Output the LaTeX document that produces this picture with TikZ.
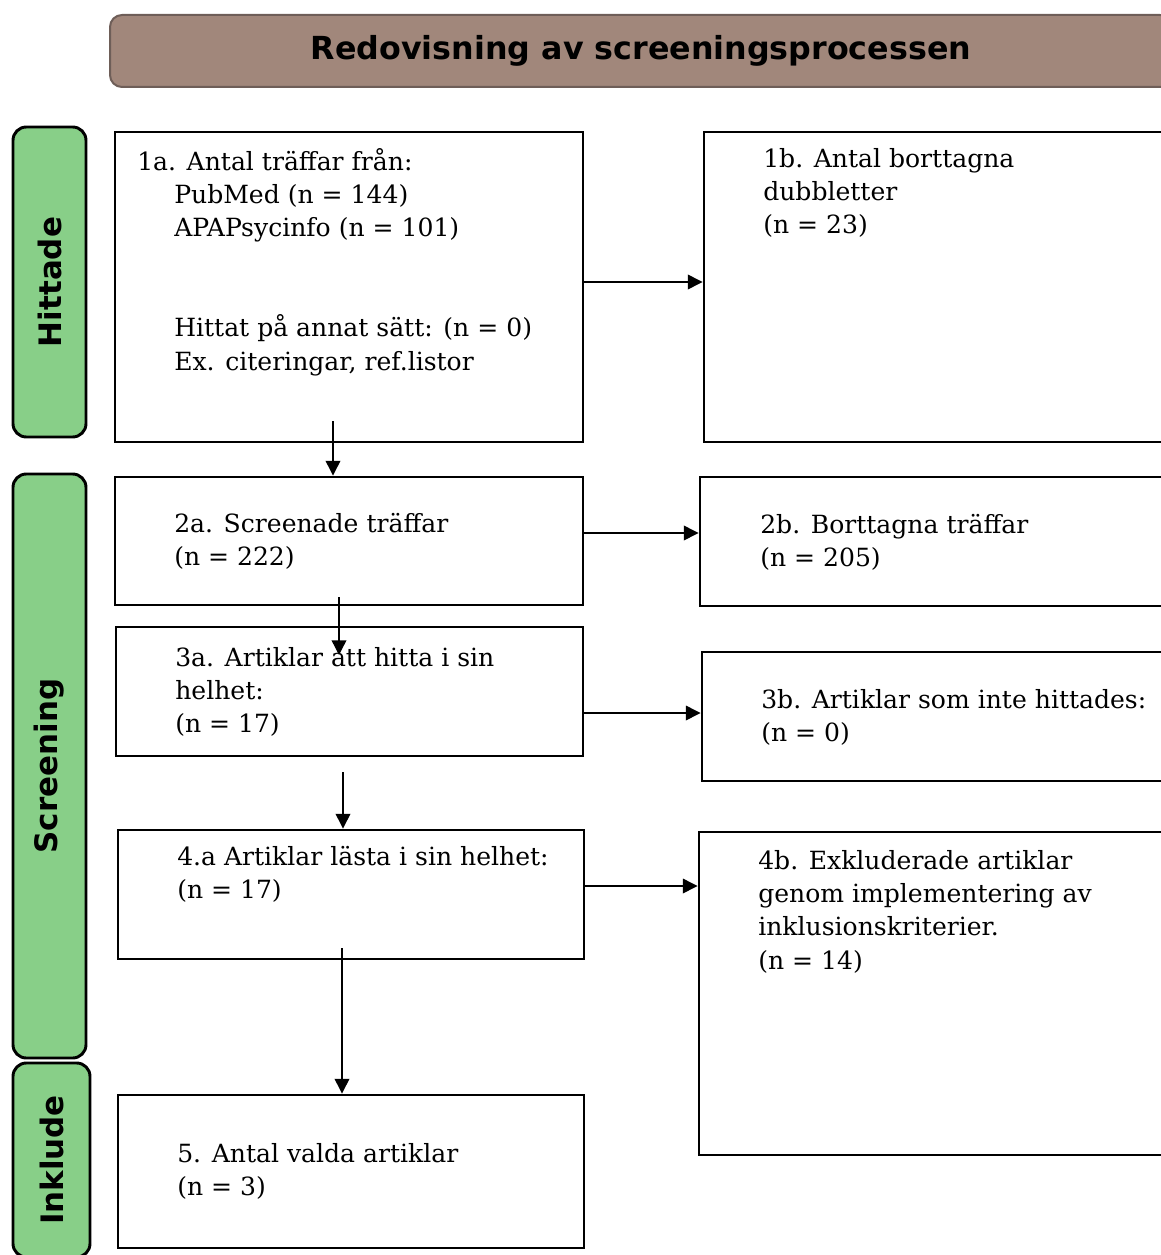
\documentclass[tikz,border=0pt]{standalone}
\usepackage{fontspec}
\setmainfont{DejaVu Serif}
\setsansfont{DejaVu Sans}
\usetikzlibrary{arrows.meta}
\definecolor{titelbrun}{RGB}{161,135,123}
\definecolor{titelkant}{RGB}{110,94,88}
\definecolor{fasgron}{RGB}{136,207,136}
\tikzset{
 ruta/.style={draw=black,line width=2.2pt,inner sep=0pt},
 fas/.style={draw=black,line width=2.2pt,fill=fasgron,rounded corners=10pt,rotate=90,
  font=\sffamily\bfseries\fontsize{23.2}{26}\selectfont},
 txt/.style={anchor=north west,align=left,inner sep=0pt,
  font=\fontsize{18.8}{25}\selectfont},
 pil/.style={line width=1pt,-{Triangle[length=11pt,width=11pt]}}
}
\begin{document}
\begin{tikzpicture}[x=0.75pt,y=-0.75pt]
 \useasboundingbox (0,0) rectangle (1160,1255); %画像の大きさ
 \node[draw=titelkant,line width=1.5pt,fill=titelbrun,rounded corners=9pt,
  minimum width=796.5pt,minimum height=54pt,
  font=\sffamily\bfseries\fontsize{23.8}{26}\selectfont] (titel) at (641,51)
  {Redovisning av screeningsprocessen}; %タイトル

 \node[fas,minimum width=232.5pt,minimum height=54.75pt] (hittade) at (49.5,282) {Hittade}; %左の帯
 \node[fas,minimum width=438pt,minimum height=54.75pt] (screening) at (49.5,766) {Screening};
 \node[fas,minimum width=145.5pt,minimum height=57.75pt] (inklude) at (51.5,1160) {Inklude};

 \node[ruta,minimum width=351pt,minimum height=232.5pt] (a1) at (349,287) {}; %1a
 \node[ruta,minimum width=353.25pt,minimum height=232.5pt] (b1) at (939.5,287) {}; %1b
 \node[ruta,minimum width=351pt,minimum height=96pt] (a2) at (349,541) {}; %2a
 \node[ruta,minimum width=356.25pt,minimum height=96.75pt] (b2) at (937.5,541.5) {}; %2b
 \node[ruta,minimum width=350.25pt,minimum height=96.75pt] (a3) at (349.5,691.5) {}; %3a
 \node[ruta,minimum width=354.75pt,minimum height=96.75pt] (b3) at (938.5,716.5) {}; %3b
 \node[ruta,minimum width=349.5pt,minimum height=96.75pt] (a4) at (351,894.5) {}; %4a
 \node[ruta,minimum width=357pt,minimum height=242.25pt] (b4) at (937,993.5) {}; %4b
 \node[ruta,minimum width=349.5pt,minimum height=114.75pt] (a5) at (351,1171.5) {}; %5

 \node[txt] (a1t) at (137,148) {1a. Antal träffar från:\\
  \hspace*{27.75pt}PubMed (n = 144)\\
  \hspace*{27.75pt}APAPsycinfo (n = 101)\\[50pt]
  \hspace*{27.75pt}Hittat på annat sätt: (n = 0)\\
  \hspace*{27.75pt}Ex. citeringar, ref.listor};
 \node[txt] (b1t) at (763,148) {1b. Antal borttagna\\dubbletter\\(n = 23)};
 \node[txt] (a2t) at (174,513) {2a. Screenade träffar\\(n = 222)};
 \node[txt] (b2t) at (760,514) {2b. Borttagna träffar\\(n = 205)};
 \node[txt] (a3t) at (175,647) {3a. Artiklar att hitta i sin\\helhet:\\(n = 17)};
 \node[txt] (b3t) at (761,689) {3b. Artiklar som inte hittades:\\(n = 0)};
 \node[txt] (a4t) at (177,846) {4.a Artiklar lästa i sin helhet:\\(n = 17)};
 \node[txt] (b4t) at (758,850) {4b. Exkluderade artiklar\\genom implementering av\\inklusionskriterier.\\(n = 14)};
 \node[txt] (a5t) at (177,1143) {5. Antal valda artiklar\\(n = 3)};

 \coordinate (h1) at (0,282); %横矢印の高さ
 \coordinate (h2) at (0,533);
 \coordinate (h3) at (0,713);
 \coordinate (h4) at (0,886);
 \draw[pil] (a1.east |- h1) -- (b1.west |- h1);
 \draw[pil] (a2.east |- h2) -- (b2.west |- h2);
 \draw[pil] (a3.east |- h3) -- (b3.west |- h3);
 \draw[pil] (a4.east |- h4) -- (b4.west |- h4);

 \coordinate (v1) at (333,421); %縦矢印の始点
 \coordinate (v2) at (339,597);
 \coordinate (v2e) at (339,655); %3aの中で止まる
 \coordinate (v3) at (343,772);
 \coordinate (v4) at (342,948);
 \draw[pil] (v1) -- (v1 |- a2.north);
 \draw[pil] (v2) -- (v2e);
 \draw[pil] (v3) -- (v3 |- a4.north);
 \draw[pil] (v4) -- (v4 |- a5.north);
\end{tikzpicture}
\end{document}
